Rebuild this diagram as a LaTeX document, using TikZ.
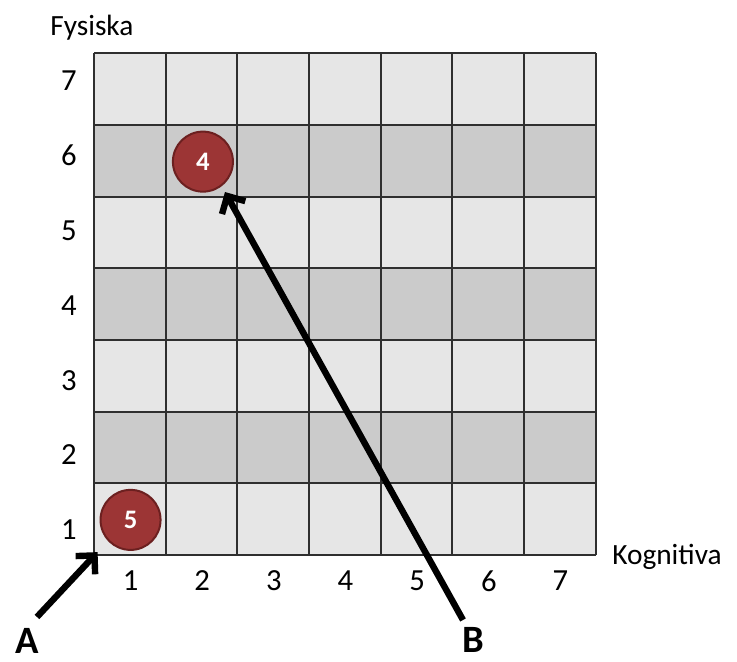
\documentclass[tikz,border=0pt]{standalone}
\usepackage{fontspec}
\setmainfont{Carlito}
\usepackage{xcolor}
\usepackage{tikz}
\usetikzlibrary{
	arrows.meta,
	positioning
}
\definecolor{cellLight}{HTML}{E6E6E6}
\definecolor{cellDark}{HTML}{CBCBCB}
\definecolor{gridLine}{HTML}{2F2F2F}
\definecolor{dotFill}{HTML}{9C3535}
\definecolor{dotEdge}{HTML}{6C2020}

\begin{document}
\begin{tikzpicture}[x=1.888cm, y=1.888cm,
		dot/.style={circle, fill=dotFill, draw=dotEdge, line width=1.5pt, minimum size=45pt, inner sep=0pt, text=white, font=\fontsize{20}{20}\selectfont\bfseries},
		lbl/.style={font=\fontsize{22}{22}\selectfont, inner sep=0pt},
		tick/.style={font=\fontsize{23}{23}\selectfont, inner sep=0pt},
		big/.style={font=\fontsize{29}{29}\selectfont\bfseries, inner sep=0pt},
		pointer/.style={line width=4.8pt, -{Straight Barb[length=10pt,width=20pt]}}]
		\useasboundingbox (-1.312,-1.493) rectangle (8.974,7.746);
		% 格子：偶数行深色
		\foreach \r in {1,...,7}{
			\ifodd\r \def\cellcol{cellLight}\else \def\cellcol{cellDark}\fi
			\fill[\cellcol] (0,\r-1) rectangle (7,\r);
		}
		\draw[gridLine, line width=1.5pt, step={(1,1)}] (0,0) grid (7,7);
		% 坐标刻度
		\foreach \k in {1,...,7}{
			\node[tick] (row\k) at (-0.35,{0.35+(\k-1)*1.045}) {\k};
			\node[tick] (col\k) at ({\k-0.49},-0.363) {\k};
		}
		\node[lbl, anchor=base] (fys) at (-0.03,7.244) {Fysiska};
		\node[lbl, anchor=base west] (kog) at (7.23,-0.126) {Kognitiva};
		% 圆点
		\node[dot] (c4) at (1.52,5.49) {4};
		\node[dot] (c5) at (0.51,0.49) {5};
		% 箭头 A 和 B
		\node[big] (labA) at (-0.935,-1.20) {A};
		\node[big] (labB) at (5.30,-1.19) {B};
		\coordinate (tailA) at (-0.796,-0.865);
		\coordinate (corner) at (0.05,0.04);
		\coordinate (tailB) at (5.15,-0.907);
		\coordinate (tipB) at (1.828,5.066);
		\draw[pointer] (tailA) -- (corner);
		\draw[pointer] (tailB) -- (tipB);
	\end{tikzpicture}
\end{document}
